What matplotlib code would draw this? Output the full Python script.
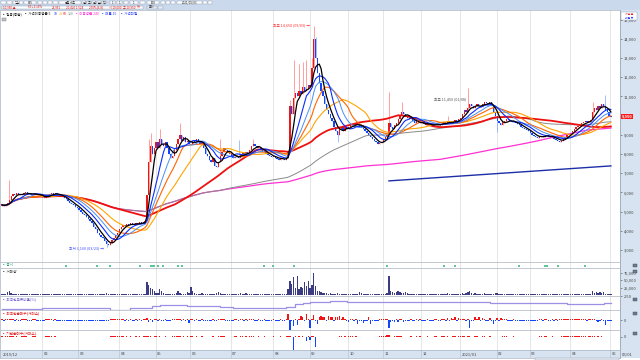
import numpy as np
import pandas as pd
import matplotlib
matplotlib.use("Agg")
import matplotlib.pyplot as plt
from matplotlib.patches import Rectangle
from matplotlib.transforms import blended_transform_factory as blend

plt.rcParams['font.family'] = ['Noto Sans CJK KR', 'DejaVu Sans']

# ---------------- DATA ----------------
month_keys = ["1912", "2001", "2002", "2003", "2004", "2005", "2006", "2007", "2008",
              "2009", "2010", "2011", "2012", "2101", "2102", "2103", "2104", "2105"]
month_labels = ["2019/12", "", "02", "03", "04", "05", "06", "07", "08", "09",
                "10", "11", "12", "2021/01", "02", "03", "04", "05"]

first_open = 5300
close_1912 = [5350]
close_2001 = [5300, 5350, 5450, 5600, 5800, 5900, 5850, 5950, 5900, 5850, 5900, 5950, 6000, 5950, 5900, 5850, 5900, 5950, 5900, 5850, 5800]
close_2002 = [5750, 5700, 5800, 5850, 5900, 5950, 5900, 5950, 5900, 5850, 5800, 5750, 5700, 5650, 5550, 5450, 5400, 5350, 5250, 5200]
close_2003 = [5100, 5000, 4900, 4800, 4700, 4600, 4500, 4400, 4200, 4100, 3900, 3800, 3700, 3600, 3450, 3300, 3250, 3350, 3500, 3650, 3800, 3900]
close_2004 = [4100, 4200, 4300, 4250, 4350, 4300, 4400, 4350, 4300, 4400, 4350, 4450, 4400, 4450, 4500, 5850, 7600, 8400, 8000, 8300]
close_2005 = [8600, 8300, 8800, 8500, 8400, 8600, 8300, 8000, 7800, 7900, 8200, 8500, 8800, 9000, 8700, 8900, 8600, 8700, 8500]
close_2006 = [8500, 8700, 8600, 8800, 8700, 8500, 8600, 8300, 8000, 7900, 7700, 7600, 7800, 7400, 7300, 7600, 7900, 8100, 8300, 8200, 8100, 8000]
close_2007 = [7900, 7800, 7850, 7900, 7800, 8000, 8050, 7950, 8100, 8000, 8200, 8400, 8500, 8400, 8300, 8350, 8200, 8100, 8150, 8000, 7950, 7900, 7850]
close_2008 = [7850, 7800, 7750, 7700, 7800, 7750, 7700, 7800, 8100, 10500, 10100, 10900, 11200, 11000, 11300, 11100, 11500, 11300, 11400, 11600]
close_2009 = [11500, 12500, 14000, 13000, 12200, 11700, 11300, 11000, 10600, 10300, 10100, 9900, 9700, 9400, 9200, 9000, 9300, 9400, 9200, 9400, 9300]
close_2010 = [9400, 9500, 9550, 9500, 9600, 9500, 9450, 9400, 9300, 9200, 9100, 9000, 8900, 8800, 8700, 8600, 8500, 8550, 8650]
close_2011 = [8800, 8900, 9000, 9600, 9400, 9300, 9500, 9600, 9800, 10000, 10200, 10100, 10000, 9900, 9800, 9900, 9700, 9600, 9700, 9600, 9650]
close_2012 = [9600, 9550, 9500, 9600, 9550, 9500, 9450, 9500, 9600, 9550, 9500, 9600, 9650, 9600, 9700, 9650, 9600, 9700, 9750, 9700, 9800]
close_2101 = [9900, 10100, 10300, 10200, 10400, 10600, 10500, 10400, 10500, 10600, 10500, 10450, 10600, 10700, 10650, 10600, 10700, 10500, 10200, 10000]
close_2102 = [9700, 9600, 9500, 9650, 9700, 9800, 9750, 9700, 9650, 9700, 9600, 9550, 9500, 9400, 9350, 9300, 9250, 9200]
close_2103 = [9100, 9000, 8950, 8900, 8850, 8900, 8950, 8900, 8950, 9000, 8900, 8850, 8900, 8800, 8750, 8700, 8650, 8700, 8800, 8900, 9000, 9050]
close_2104 = [9100, 9200, 9300, 9400, 9450, 9500, 9600, 9650, 9700, 9650, 9700, 9750, 10200, 10400, 10300, 10500, 10400, 10600, 10500, 10300, 10200, 10000]
close_2105 = [9950]

# volume in thousands of shares
vol_1912 = [3]
vol_2001 = [3, 4, 9, 12, 8, 5, 4, 3, 3, 3, 3, 2, 3, 3, 2, 2, 3, 2, 2, 3, 2]
vol_2002 = [2, 2, 3, 2, 2, 3, 2, 2, 2, 2, 3, 2, 2, 2, 3, 3, 2, 2, 3, 3]
vol_2003 = [3, 3, 2, 3, 3, 4, 3, 4, 5, 4, 4, 3, 4, 5, 4, 6, 4, 3, 3, 3, 3, 3]
vol_2004 = [3, 2, 3, 2, 2, 3, 2, 2, 2, 3, 2, 3, 2, 3, 4, 44, 35, 25, 20, 12]
vol_2005 = [8, 7, 20, 15, 6, 5, 4, 5, 4, 4, 5, 6, 12, 8, 5, 4, 5, 10, 6]
vol_2006 = [28, 12, 6, 5, 4, 5, 6, 4, 4, 3, 4, 3, 4, 5, 6, 10, 7, 5, 4, 3, 3, 3]
vol_2007 = [3, 3, 2, 3, 3, 8, 4, 3, 7, 3, 3, 4, 3, 3, 2, 3, 2, 3, 2, 2, 3, 2, 2]
vol_2008 = [2, 2, 3, 2, 2, 3, 2, 3, 20, 47, 37, 60, 22, 65, 20, 28, 25, 44, 30, 47]
vol_2009 = [25, 35, 75, 30, 15, 12, 10, 8, 6, 7, 5, 6, 5, 5, 4, 6, 5, 4, 4, 5, 4]
vol_2010 = [4, 3, 4, 5, 4, 3, 10, 6, 4, 3, 3, 4, 3, 3, 4, 3, 3, 4, 3]
vol_2011 = [4, 5, 6, 65, 12, 10, 8, 10, 12, 9, 8, 7, 9, 6, 5, 4, 5, 4, 4, 3, 4]
vol_2012 = [3, 3, 4, 3, 3, 3, 4, 3, 3, 4, 5, 4, 3, 4, 6, 4, 3, 3, 4, 3, 4]
vol_2101 = [5, 6, 5, 8, 9, 15, 7, 5, 6, 5, 4, 5, 4, 6, 5, 4, 5, 4, 5, 6]
vol_2102 = [6, 4, 3, 3, 4, 3, 3, 3, 4, 3, 3, 3, 2, 3, 3, 2, 3, 3]
vol_2103 = [3, 2, 3, 2, 2, 3, 2, 2, 3, 2, 2, 2, 3, 2, 2, 3, 2, 2, 3, 2, 3, 3]
vol_2104 = [3, 3, 4, 3, 3, 4, 3, 3, 4, 3, 4, 3, 12, 6, 10, 8, 10, 6, 9, 5, 4, 4]
vol_2105 = [4]

# wick extremes (month, trading day in month) -> price
high_spikes = {("2001", 3): 6650, ("2004", 16): 8800, ("2004", 17): 9100, ("2005", 2): 9300,
               ("2005", 13): 9600, ("2006", 16): 8800, ("2007", 4): 8750, ("2007", 12): 8800,
               ("2008", 9): 10800, ("2008", 11): 12900, ("2008", 14): 12700, ("2008", 16): 12800,
               ("2008", 18): 12900, ("2009", 1): 13000, ("2009", 2): 14650, ("2009", 3): 14100,
               ("2011", 3): 11250, ("2011", 10): 10700, ("2012", 14): 10000, ("2101", 4): 11450,
               ("2104", 12): 10700, ("2104", 19): 11070}
low_spikes = {("2003", 15): 3160, ("2102", 0): 9150, ("2009", 15): 8600}

# foreign / institution net buying (notable days, panel units)
foreign_net = {("2004", 15): 2, ("2004", 16): -2, ("2004", 17): 1.5, ("2004", 18): -1.5, ("2005", 18): -3,
               ("2008", 8): 6.5, ("2008", 9): -10, ("2008", 11): -6, ("2008", 13): -5, ("2008", 15): 4,
               ("2008", 16): 3, ("2008", 18): 6, ("2009", 0): -8, ("2009", 2): 5, ("2009", 4): -4,
               ("2009", 5): 3, ("2009", 6): 4, ("2009", 7): 3.5, ("2009", 8): 3, ("2009", 10): 4,
               ("2009", 11): 3, ("2009", 12): 3.5, ("2009", 14): 3, ("2009", 15): 3, ("2009", 16): 4,
               ("2009", 18): 3, ("2010", 0): -2, ("2010", 5): -4, ("2010", 8): -3, ("2010", 11): 3,
               ("2010", 12): -4, ("2011", 3): -8, ("2011", 4): -1.5, ("2011", 6): -1.5, ("2011", 8): -1.5,
               ("2011", 11): -1.5, ("2012", 14): 2.5, ("2012", 16): 2, ("2012", 18): 3, ("2012", 20): 2.5,
               ("2101", 5): -8, ("2101", 8): 3, ("2101", 10): 3, ("2101", 12): 2.5, ("2101", 16): 2,
               ("2101", 18): -4, ("2102", 0): 2, ("2102", 2): 2, ("2103", 12): 1, ("2103", 14): 1,
               ("2103", 16): 1, ("2104", 15): -2, ("2104", 19): -5}
inst_net = {("2008", 11): -14, ("2008", 18): -4, ("2009", 0): -3.5, ("2009", 3): -10,
            ("2011", 2): 1.5, ("2011", 3): 1.5}

# foreign holding ratio (step series: start day index, value)
hold_days = [0, 22, 59, 70, 82, 86, 101, 119, 126, 155, 160, 164, 168, 179, 188, 228, 266, 290, 308, 328]
hold_vals = [0.60, 0.74, 0.55, 0.74, 1.07, 1.20, 1.10, 0.95, 0.80, 0.95, 1.30, 1.55, 1.69, 1.83,
             1.69, 1.60, 1.46, 1.46, 1.36, 1.54]

event_days = [35, 52, 59, 75, 81, 82, 83, 85, 88, 96, 98, 143, 148, 159, 210, 241, 247, 282, 296, 297, 303, 318]

trend_days = [211, 332]
trend_prices = [6600, 7380]

price_ticks = list(range(3000, 15001, 1000))
vol_ticks = [25000, 50000, 75000]

# ---------------- PREP ----------------
g = globals()
closes_by_month = [g["close_" + k] for k in month_keys]
vols_by_month = [g["vol_" + k] for k in month_keys]
close = np.concatenate(closes_by_month).astype(float)
volume = np.concatenate(vols_by_month).astype(float) * 1000
n = len(close)
idx = np.arange(n)
month_start = np.cumsum([0] + [len(m) for m in closes_by_month[:-1]])
start_of = dict(zip(month_keys, month_start))


def day(key, d):
    return start_of[key] + d


op = np.r_[first_open, close[:-1]]
hi = np.maximum(op, close)
lo = np.minimum(op, close)
for (k, d), v in high_spikes.items():
    hi[day(k, d)] = max(hi[day(k, d)], v)
for (k, d), v in low_spikes.items():
    lo[day(k, d)] = min(lo[day(k, d)], v)
up = close >= op
chg_sign = np.where(close >= op, 1.0, -1.0)

fnet = 0.7 * chg_sign
for (k, d), v in foreign_net.items():
    fnet[day(k, d)] = v
inet = 0.45 * chg_sign
for (k, d), v in inst_net.items():
    inet[day(k, d)] = v

# ---------------- FIGURE ----------------
W, H = 640, 360
fig = plt.figure(figsize=(6.4, 3.6), dpi=100)
fig.patch.set_facecolor('white')


def px_axes(x0, y0, x1, y1, **kw):
    return fig.add_axes([x0 / W, 1 - y1 / H, (x1 - x0) / W, (y1 - y0) / H], **kw)


XL = (-2 / 1.834, 618 / 1.834)
PANEL_BG = '#d7e3f1'
BORDER = '#a9b4c2'
FS = 2.9

# background layer
bg = px_axes(0, 0, 640, 360)
bg.set_xlim(0, W); bg.set_ylim(H, 0); bg.axis('off'); bg.set_zorder(-5)
bg.add_patch(Rectangle((0, 0), 640, 10, fc='#cbd9ec', ec='none'))
bg.add_patch(Rectangle((620, 10), 20, 348, fc=PANEL_BG, ec='none'))
bg.plot([620, 620], [10, 358], color='#8f9db0', lw=0.6)


def style(a):
    a.set_xlim(*XL)
    for s in a.spines.values():
        s.set_color(BORDER); s.set_linewidth(0.5)
    a.set_xticks([])
    a.yaxis.tick_right()
    a.tick_params(axis='y', length=1.5, width=0.4, pad=1, labelsize=FS, colors='#444444')
    for s in month_start[2:]:
        a.axvline(s - 0.3, color='#e2e2e2', lw=0.6, zorder=0)


# ---- main price panel ----
ax = px_axes(0, 10, 620, 262)
style(ax)
ax.set_ylim(2375, 15500)
ax.set_yticks(price_ticks)
# the current-price tag covers the 10,000 label, as in the reference
ax.set_yticklabels(["" if v == 10000 else f"{v:,}" for v in price_ticks])

body_h = np.maximum(np.abs(close - op), 45)
ax.vlines(idx[up], lo[up], hi[up], colors='#ff6a6a', lw=0.45, zorder=2)
ax.vlines(idx[~up], lo[~up], hi[~up], colors='#6e9cff', lw=0.45, zorder=2)
ax.bar(idx[up], body_h[up], bottom=np.minimum(op, close)[up], width=0.7,
       color='#f01515', linewidth=0, zorder=2.2)
ax.bar(idx[~up], body_h[~up], bottom=np.minimum(op, close)[~up], width=0.7,
       color='#1244ff', linewidth=0, zorder=2.2)

cs = pd.Series(close)
ma_specs = [(240, '#ff2fd2', 0.9), (120, '#8a8a8a', 0.7), (60, '#ee1010', 1.3),
            (30, '#ffa500', 0.8), (20, '#ff6400', 0.8), (15, '#4a8ff5', 0.7),
            (10, '#0a2cff', 0.8), (5, '#000000', 0.9)]
for i, (w, col, lw) in enumerate(ma_specs):
    ax.plot(idx, cs.rolling(w, min_periods=1).mean(), color=col, lw=lw, zorder=3 + i * 0.1)
ax.plot(trend_days, trend_prices, color='#1c2fa8', lw=1.0, zorder=3)

hi_day = day("2009", 2)
ax.text(hi_day - 2.2, hi[hi_day] + 60, f"최고 {hi[hi_day]:,.0f} (09/03) →", ha='right', va='center',
        color='#ff2a2a', fontsize=2.7, zorder=10)
lo_day = day("2003", 15)
ax.text(lo_day - 1.2, lo[lo_day] - 60, f"최저 {lo[lo_day]:,.0f} (03/23) →", ha='right', va='center',
        color='#3b4bff', fontsize=2.7, zorder=10)
j_day = day("2101", 4)
ax.text(j_day - 1.0, 10850, f"최고 {hi[j_day]:,.0f} (01/08)", ha='right', va='center',
        color='#555555', fontsize=2.7, zorder=10)

ax.text(1.003, close[-1], f"{close[-1]:,.0f}", transform=blend(ax.transAxes, ax.transData),
        ha='left', va='center', color='white', fontsize=2.9, fontweight='bold', zorder=20,
        clip_on=False, bbox=dict(boxstyle='square,pad=0.18', fc='#ff1a1a', ec='none'))

# ---- event strip ----
ev = px_axes(0, 262, 620, 268)
style(ev)
ev.set_ylim(0, 1); ev.set_yticks([])
ev.plot(event_days, [0.35] * len(event_days), 's', ms=1.6, color='#5cc796', mew=0)

# ---- volume ----
av = px_axes(0, 268, 620, 296)
style(av)
av.set_ylim(-3125, 90625)
av.bar(idx, volume, width=0.75, color='#3c3c82', linewidth=0)
av.set_yticks(vol_ticks)
av.set_yticklabels([f"{v:,}" for v in vol_ticks])

# ---- holding ratio ----
ah = px_axes(0, 296, 620, 310)
style(ah)
ah.set_ylim(0.5, 2.5)
ah.step(hold_days + [n - 1], hold_vals + [hold_vals[-1]], where='post', color='#9d8fe6', lw=0.9)
ah.set_yticks([2.5]); ah.set_yticklabels(["2.50"])

# ---- foreign net ----
af = px_axes(0, 310, 620, 330)
style(af)
af.set_ylim(-10, 10)
af.bar(idx, fnet, width=0.75, color=np.where(fnet >= 0, '#f01515', '#1244ff'), linewidth=0)
af.set_yticks([0]); af.set_yticklabels(["0"])

# ---- institution net ----
ai = px_axes(0, 330, 620, 350)
style(ai)
ai.set_ylim(-13.5, 6.5)
ai.bar(idx, inet, width=0.75, color=np.where(inet >= 0, '#f01515', '#1244ff'), linewidth=0)
ai.set_yticks([0]); ai.set_yticklabels(["0"])

# ---- date strip ----
ad = px_axes(0, 350, 620, 358)
ad.set_facecolor(PANEL_BG)
ad.set_xlim(*XL); ad.set_ylim(0, 1)
ad.set_xticks([]); ad.set_yticks([])
for s in ad.spines.values():
    s.set_color(BORDER); s.set_linewidth(0.5)
for s, lab in zip(month_start, month_labels):
    if lab:
        ad.text(s + 0.5, 0.5, lab, ha='left', va='center', fontsize=FS, color='#444444')
    if s > 1:
        ad.axvline(s - 0.3, color='#b9c5d4', lw=0.5)

# ---------------- TEXT OVERLAY ----------------
ov = px_axes(0, 0, 640, 360)
ov.set_xlim(0, W); ov.set_ylim(H, 0); ov.axis('off'); ov.set_zorder(30)
ov.patch.set_alpha(0)

# toolbar row 1
for x0, w, t in [(1, 5, ""), (7, 5, ""), (13, 10, "검색"), (24, 12, "005"), (38, 4, ""), (43, 4, ""),
                 (48, 4, ""), (53, 5, ""), (59, 22, "종합차트"), (82, 4, "일"), (87, 4, "주"),
                 (92, 4, "월"), (97, 4, "분"), (102, 4, "틱"), (110, 5, "1"), (117, 5, "1"),
                 (124, 4, ""), (130, 8, "1"), (140, 5, ""), (147, 12, "100"), (161, 4, ""),
                 (166, 4, ""), (171, 4, ""), (177, 25, "2021/05/03"), (203, 4, ""), (208, 4, "")]:
    ov.add_patch(Rectangle((x0, 0.8), w, 3.6, fc='white', ec='#8e9bb0', lw=0.3))
    if t:
        ov.text(x0 + w / 2, 2.7, t, ha='center', va='center', fontsize=2.2, color='#222222')
# toolbar row 2
ov.add_patch(Rectangle((2, 5.6), 141, 3.6, fc='white', ec='#8e9bb0', lw=0.3))
for x0, t in [(3, "10,950 ▲"), (28, "60 +1.11%"), (52, "21,951"), (66, "20,420 1.524"),
              (89, "2.70%(6.8)"), (109, "시 10,000"), (123, "고 10,950"), (137, "저")]:
    ov.text(x0, 7.5, t, ha='left', va='center', fontsize=2.2, color='#e01010')
ov.add_patch(Rectangle((147, 5.6), 10, 3.6, fc='#e6ebf3', ec='#8e9bb0', lw=0.3))
ov.text(152, 7.5, "표시", ha='center', va='center', fontsize=2.2, color='#222222')
ov.add_patch(Rectangle((158, 5.6), 5, 3.6, fc='#e6ebf3', ec='#8e9bb0', lw=0.3))

# legend of main panel
for x0, t, c in [(2, "▪ 일봉(종합)", '#222222'), (24, "▪ 가격이동평균 5", '#222222'),
                 (54, "10", '#0a2cff'), (58.5, "20", '#ffa500'), (63, "60", '#ee1010'),
                 (67.5, "120", '#8a8a8a'), (75, "▪ 이동평균 240", '#ff2fd2'),
                 (101, "▪ 매물 15", '#2a3cff'), (120, "▪ 가격대별", '#2a3cff')]:
    ov.text(x0, 14, t, ha='left', va='center', fontsize=2.5, color=c)
ov.add_patch(Rectangle((2, 17.5), 4, 3, fc='#bfbfbf', ec='#7f7f7f', lw=0.3))
ov.add_patch(Rectangle((621, 11.5), 16, 8, fc='white', ec='#8e9bb0', lw=0.3))
ov.text(629, 14, "가격 ▲", ha='center', va='center', fontsize=2.0, color='#e01010')
ov.text(629, 17.5, "매물 ▼", ha='center', va='center', fontsize=2.0, color='#2a3cff')

# panel titles
for y0, t, c in [(264.8, "▪ 공시", '#2e9e78'), (271.5, "▪ 거래량", '#333333'),
                 (299.3, "▪ 외국인보유비율(%)", '#6a5acd'), (313.3, "▪ 외국인순매수(거래소)", '#e01010'),
                 (333.3, "▪ 기관순매수(거래소)", '#e01010')]:
    ov.text(2, y0, t, ha='left', va='center', fontsize=2.6, color=c)
for y0 in [263.5, 269.5, 297.5, 311.5, 331.5]:
    ov.add_patch(Rectangle((633, y0), 4, 3, fc='#6d7a8e', ec='#3f4a5a', lw=0.3))
ov.text(622, 354, "06/01", ha='left', va='center', fontsize=FS, color='#444444')
ov.add_patch(Rectangle((535, 357.6), 84, 2.2, fc='#e8edf4', ec='#8e9bb0', lw=0.3))

fig.savefig("out.png", dpi=100, facecolor='white')
